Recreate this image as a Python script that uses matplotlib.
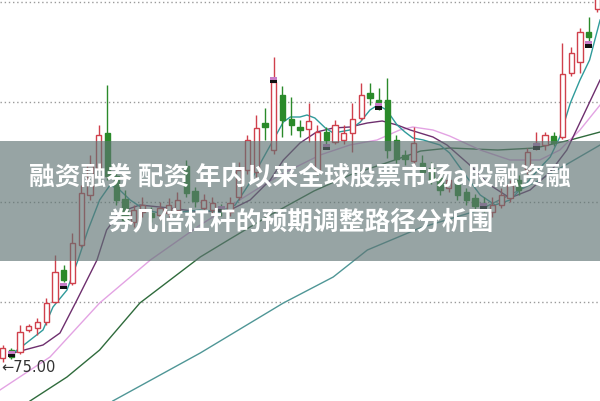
import matplotlib.pyplot as plt
from matplotlib.patches import Rectangle

plt.rcParams['font.family'] = ['Noto Sans CJK SC', 'DejaVu Sans']

# candles: open, high, low, close (price units)
opens = [75.4, 76.2, 76.0, 78.2, 78.4, 79.0, 81.0, 84.2, 82.9, 86.7,
         91.7, 94.4, 97.9, 93.6, 91.3, 89.0, 90.0, 89.9, 89.7, 89.9,
         90.2, 94.6, 92.1, 90.4, 90.2, 90.4, 90.0, 91.5, 94.2, 94.0,
         98.9, 96.2, 101.7, 99.3, 98.5, 98.3, 94.2, 98.0, 97.0, 97.2,
         97.9, 99.4, 101.9, 101.2, 101.2, 97.2, 95.7, 95.1, 94.9, 94.4,
         93.4, 92.4, 92.9, 92.0, 91.4, 90.9, 90.0, 90.7, 91.4, 93.2,
         94.2, 96.6, 96.7, 97.6, 97.5, 103.9, 105.0, 108.0, 110.3]
highs = [76.7, 76.4, 78.7, 78.8, 79.4, 81.4, 85.7, 84.7, 87.9, 92.7,
         95.7, 98.7, 102.7, 94.2, 92.2, 90.7, 91.5, 90.5, 91.0, 91.4,
         92.0, 95.2, 92.5, 91.8, 91.5, 90.8, 91.5, 95.0, 97.7, 99.7,
         100.4, 105.5, 102.6, 101.5, 99.2, 100.9, 98.7, 98.5, 99.2, 98.7,
         100.9, 102.9, 102.9, 102.4, 103.4, 97.7, 96.2, 98.5, 95.7, 95.0,
         93.8, 93.7, 93.4, 92.4, 91.8, 91.5, 91.5, 92.4, 93.2, 93.7,
         96.4, 98.0, 98.0, 98.0, 106.9, 106.5, 108.4, 109.5, 113.0]
lows = [75.0, 75.3, 75.8, 78.0, 77.7, 78.7, 80.9, 83.0, 82.7, 86.5,
        91.2, 94.0, 93.2, 90.7, 88.7, 88.5, 89.5, 89.0, 89.2, 89.5,
        89.8, 91.5, 90.5, 90.0, 89.8, 89.6, 89.6, 91.2, 93.8, 93.5,
        97.2, 95.8, 97.5, 97.7, 97.5, 97.0, 93.7, 96.6, 96.8, 96.8,
        96.0, 99.2, 100.7, 100.2, 95.4, 94.9, 94.7, 94.7, 93.4, 92.8,
        91.7, 92.0, 91.2, 90.7, 90.2, 90.0, 89.5, 90.4, 91.0, 91.7,
        93.8, 96.2, 96.2, 96.6, 97.3, 103.6, 103.9, 106.5, 110.0]
closes = [76.4, 75.5, 78.0, 78.6, 79.0, 80.9, 84.0, 83.2, 86.9, 91.9,
          94.7, 97.7, 93.6, 91.2, 89.2, 90.2, 90.7, 89.5, 90.4, 90.7,
          91.2, 91.9, 91.1, 91.2, 90.9, 90.1, 90.9, 94.2, 97.2, 98.4,
          98.5, 103.0, 99.2, 98.7, 98.2, 99.1, 98.0, 97.2, 98.7, 97.9,
          99.3, 101.7, 101.4, 101.0, 96.2, 95.3, 95.3, 96.9, 94.0, 93.2,
          92.2, 93.2, 91.7, 91.2, 90.6, 90.5, 90.7, 91.7, 92.7, 92.2,
          96.0, 96.9, 97.7, 96.9, 103.8, 105.9, 108.0, 107.5, 112.5]

# signal boxes drawn on some candles
signal_idx = [1, 7, 25, 31, 37, 43, 55, 61, 67]
signal_val = [75.8, 82.6, 90.3, 103.2, 96.5, 100.6, 90.6, 96.6, 106.8]

# moving average lines (index, price)
ma5_x = [0.86, 2.0, 4.63, 5.77, 7.37, 8.63, 9.77, 11.1, 12.3, 13.4, 14.6, 16.3,
         18.0, 20.3, 22.6, 24.9, 26.6, 28.1, 29.8, 32.1, 32.9, 34.0, 34.8, 35.7,
         36.9, 37.8, 39.7, 40.9, 42.0, 42.9, 43.9, 45.1, 46.0, 46.9, 48.1, 50.0,
         51.1, 52.9, 54.6, 56.3, 58.0, 59.7, 61.4, 62.6, 63.7, 64.9, 66.0, 67.1, 68.3]
ma5_y = [75.7, 76.4, 78.2, 80.5, 82.2, 85.2, 88.2, 91.2, 92.7, 92.2, 91.2, 90.2,
         89.9, 90.0, 90.2, 90.0, 90.7, 92.7, 95.4, 99.0, 99.5, 99.5, 99.7, 99.4,
         98.4, 97.9, 98.2, 99.0, 100.2, 100.7, 100.2, 98.7, 98.0, 97.4, 97.2, 96.7,
         95.9, 93.7, 91.7, 90.7, 91.2, 92.7, 94.4, 95.5, 97.5, 100.9, 103.2, 105.2, 109.2]
ma10_x = [1.2, 4.63, 6.57, 8.51, 10.8, 11.9, 13.4, 15.7, 19.1, 22.6, 26.0, 28.3,
          30.6, 32.1, 34.0, 35.9, 37.8, 39.7, 41.7, 43.4, 45.1, 46.6, 49.2, 50.8,
          53.4, 55.7, 58.0, 60.3, 62.6, 64.5, 66.3, 68.3]
ma10_y = [75.9, 76.7, 77.9, 81.2, 85.2, 88.2, 90.0, 90.7, 90.4, 90.0, 90.2, 91.2,
          93.2, 95.2, 96.9, 98.0, 98.4, 98.5, 98.9, 99.1, 98.7, 98.2, 97.5, 96.7,
          94.7, 92.7, 91.4, 92.2, 94.0, 96.2, 99.5, 103.2]
ma20_x = [-0.29, 5.43, 11.1, 16.9, 22.6, 27.1, 31.7, 36.3, 39.7, 42.8, 45.4, 46.9,
          49.2, 51.1, 54.6, 58.0, 61.4, 63.7, 66.0, 68.3]
ma20_y = [72.2, 75.5, 80.9, 85.2, 88.7, 91.2, 93.7, 95.7, 96.7, 97.2, 98.2, 98.5,
          98.2, 97.6, 96.2, 95.2, 95.2, 96.2, 98.2, 100.7]
ma60_x = [3.14, 7.37, 11.1, 15.7, 22.6, 26.0, 30.6, 35.6, 39.7, 43.5, 47.8, 51.1,
          56.6, 60.9, 64.9, 68.3]
ma60_y = [71.1, 73.5, 76.2, 80.9, 85.5, 87.3, 89.7, 92.1, 93.7, 94.8, 96.1, 96.4,
          96.2, 96.4, 97.2, 98.0]
ma120_x = [12.6, 22.6, 32.1, 37.8, 41.7, 47.7, 54.5, 61.4, 68.3]
ma120_y = [71.1, 75.9, 80.9, 83.5, 86.2, 88.4, 90.2, 93.2, 96.7]

grid_levels = [81, 91, 101, 111]
low_label = "←75.00"
title_lines = ["融资融券 配资 年内以来全球股票市场a股融资融",
               "券几倍杠杆的预期调整路径分析围"]

fig = plt.figure(figsize=(6, 4.01), dpi=100)
ax = fig.add_axes([0, 0, 1, 1])
ax.set_xlim(-0.286, 68.29)
ax.set_ylim(71.1, 111.2)
ax.axis('off')

for g in grid_levels:
    ax.axhline(g, color='#9a9a9a', lw=1, ls=(0, (1, 2)), zorder=1)

ax.plot(ma120_x, ma120_y, color='#4f9696', lw=1, zorder=2)
ax.plot(ma60_x, ma60_y, color='#2f6b3c', lw=1, zorder=2)
ax.plot(ma20_x, ma20_y, color='#e3a3e3', lw=1, zorder=2)
ax.plot(ma10_x, ma10_y, color='#6e2f6e', lw=1, zorder=2)
ax.plot(ma5_x, ma5_y, color='#2f9b9b', lw=1, zorder=2)

w = 0.62
for i in range(len(opens)):
    o, h, l, c = opens[i], highs[i], lows[i], closes[i]
    if c >= o:
        col = '#d0404c'
        ax.vlines(i, l, o, color=col, lw=1, zorder=3)
        ax.vlines(i, c, h, color=col, lw=1, zorder=3)
        ax.add_patch(Rectangle((i - w / 2, o), w, max(c - o, 0.08), facecolor='white',
                               edgecolor=col, lw=1, zorder=4))
    else:
        col = '#2a8a2a'
        ax.vlines(i, l, h, color=col, lw=1, zorder=3)
        ax.add_patch(Rectangle((i - w / 2, c), w, max(o - c, 0.08), facecolor=col,
                               edgecolor=col, lw=1, zorder=4))

for i, v in zip(signal_idx, signal_val):
    ax.add_patch(Rectangle((i - 0.4, v - 0.35), 0.8, 0.35, facecolor='#111111', zorder=5))
    ax.add_patch(Rectangle((i - 0.4, v), 0.8, 0.3, facecolor='#c77dc7', zorder=5))

ax.text(-0.1, 74.4, low_label, fontsize=10.5, color='#333333', va='center', ha='left',
        family=['DejaVu Sans'], zorder=6)

# grey banner with the title
ax.add_patch(Rectangle((0, 140 / 401), 1, 120 / 401, transform=fig.transFigure,
                       facecolor='#5f7473', alpha=0.65, zorder=8))
fig.text(0.5, 1 - 177 / 401, title_lines[0], color='white', fontsize=18.5,
         fontweight='bold', ha='center', va='center', zorder=9)
fig.text(0.5, 1 - 222 / 401, title_lines[1], color='white', fontsize=18.5,
         fontweight='bold', ha='center', va='center', zorder=9)

fig.savefig('out.png', dpi=100)
